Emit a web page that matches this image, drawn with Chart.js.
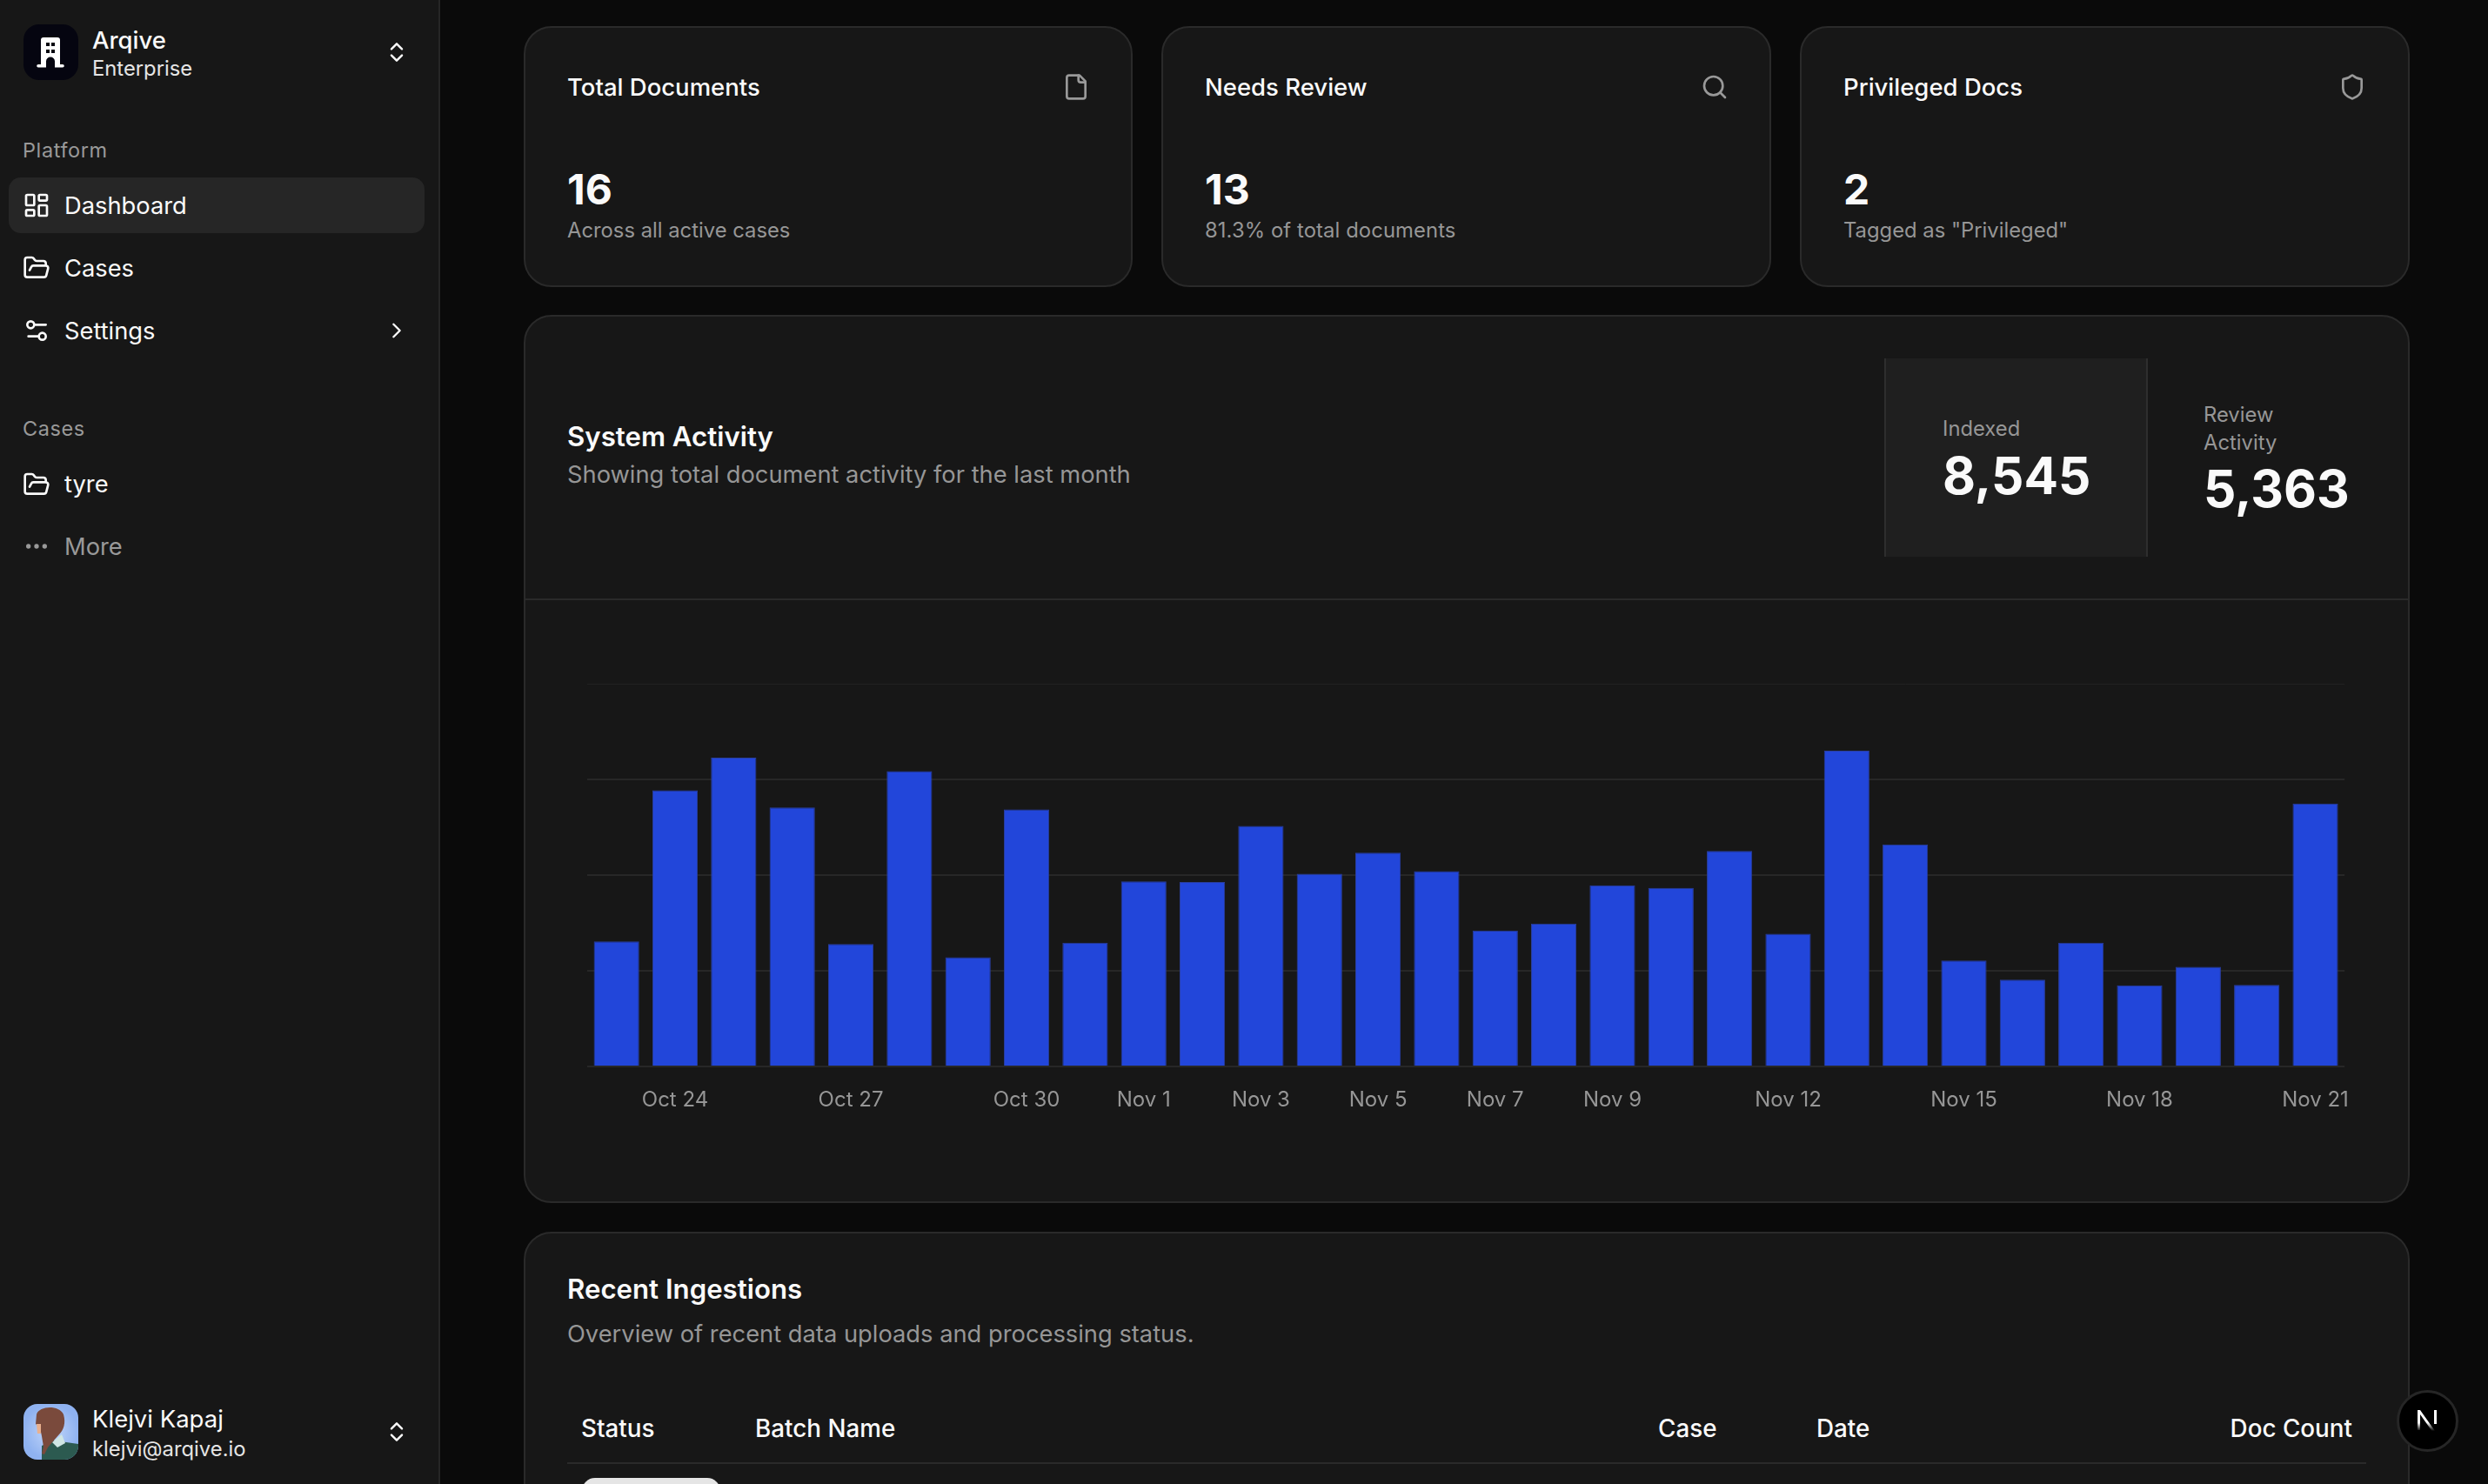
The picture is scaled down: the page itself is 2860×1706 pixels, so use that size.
<!DOCTYPE html>
<html lang="en">
<head>
<meta charset="utf-8">
<title>Arqive Dashboard</title>
<script src="https://cdn.jsdelivr.net/npm/chart.js@4"></script>
<style>
  * { box-sizing: border-box; margin: 0; padding: 0; }
  html, body { width: 2860px; height: 1706px; overflow: hidden; background: #0a0a0a; }
  body { position: relative; font-family: Inter, "Noto Sans", sans-serif; color: #fafafa; }

  .sidebar { position: absolute; left: 0; top: 0; width: 506px; height: 1706px; background: #171717; border-right: 2px solid #262626; }
  .card { position: absolute; background: #171717; border: 2px solid #2a2a2a; border-radius: 32px; }
  .t { position: absolute; white-space: nowrap; transform: translateY(-50%); line-height: 1.2; margin-top: 1px; }
  .muted { color: #999; }
  .ic { position: absolute; fill: none; stroke: currentColor; stroke-width: 2; stroke-linecap: round; stroke-linejoin: round; transform: translate(-50%, -50%); }

  .brand { font-size: 27.5px; font-weight: 400; }
  .small { font-size: 23.8px; }
  .section { font-size: 23.5px; letter-spacing: 0.6px; color: #999; }
  .nav { font-size: 27.3px; font-weight: 400; }
  .title { font-size: 27.5px; font-weight: 500; }
  .num { font-size: 48px; font-weight: 700; }
  .sub { font-size: 23.8px; color: #969696; }
  .head { font-size: 31.2px; font-weight: 600; }
  .desc { font-size: 27.3px; color: #969696; }
  .big { font-size: 58.5px; font-weight: 700; }
  .th { font-size: 27.8px; font-weight: 500; }

  .pill { position: absolute; left: 10px; top: 204px; width: 478px; height: 64px; background: #262626; border-radius: 14px; }
  .logo { position: absolute; left: 27px; top: 28px; width: 63px; height: 64px; border-radius: 18px; background: #050510; }
  .avatar { position: absolute; left: 27px; top: 1614px; width: 63px; height: 64px; border-radius: 16px; overflow: hidden; }
  .indexed { position: absolute; left: 2166px; top: 412px; width: 303px; height: 228px; background: #1f1f1f; border-left: 2px solid #2e2e2e; border-right: 2px solid #2e2e2e; }
  .rule { position: absolute; height: 2px; background: #2a2a2a; }
  .badge { position: absolute; left: 2790px; top: 1633px; width: 71px; height: 71px; margin: -35px 0 0 -35px; border-radius: 50%; background: #000; border: 3px solid #262626; }
  .status { position: absolute; left: 669px; top: 1699px; width: 159px; height: 30px; border-radius: 18px; background: #e5e5e5; }
  #chartBox { position: absolute; left: 656px; top: 775px; width: 2060px; height: 530px; }
</style>
</head>
<body>

<div class="sidebar"></div>
<div class="logo"></div>
<svg class="ic" style="left:58px;top:60px;stroke:none;fill:#fff" width="34" height="36" viewBox="0 0 34 36"><path fill-rule="evenodd" d="M9 1h16a3 3 0 0 1 3 3v28h3a1.800 1.800 0 0 1 0 3.600h-9v-7a5 5 0 0 0-10 0v7H3a1.800 1.800 0 0 1 0-3.600h3V4a3 3 0 0 1 3-3zM12 7v4h4V7zm6 0v4h4V7zM12 15v4h4v-4zm6 0v4h4v-4z"/></svg>
<div class="t brand" style="left:106px;top:45px;font-weight:500">Arqive</div>
<div class="t small" style="left:106px;top:78px;color:#e5e5e5">Enterprise</div>
<svg class="ic" style="left:456px;top:60px" width="29" height="29" viewBox="0 0 24 24"><path d="m7 15 5 5 5-5M7 9l5-5 5 5"/></svg>

<div class="t section" style="left:26px;top:172px">Platform</div>
<div class="pill"></div>
<svg class="ic" style="left:42px;top:236px" width="32" height="32" viewBox="0 0 24 24"><rect x="3" y="3" width="7" height="9" rx="1"/><rect x="14" y="3" width="7" height="5" rx="1"/><rect x="14" y="12" width="7" height="9" rx="1"/><rect x="3" y="16" width="7" height="5" rx="1"/></svg>
<div class="t nav" style="left:74px;top:236px">Dashboard</div>
<svg class="ic" style="left:42px;top:308px" width="32" height="32" viewBox="0 0 24 24"><path d="m6 14 1.500-2.900A2 2 0 0 1 9.240 10H20a2 2 0 0 1 1.940 2.500l-1.540 6a2 2 0 0 1-1.950 1.500H4a2 2 0 0 1-2-2V5a2 2 0 0 1 2-2h3.900a2 2 0 0 1 1.690.9l.81 1.200a2 2 0 0 0 1.670.9H18a2 2 0 0 1 2 2v2"/></svg>
<div class="t nav" style="left:74px;top:308px">Cases</div>
<svg class="ic" style="left:42px;top:380px" width="32" height="32" viewBox="0 0 24 24"><path d="M20 7h-9M14 17H5"/><circle cx="17" cy="17" r="3"/><circle cx="7" cy="7" r="3"/></svg>
<div class="t nav" style="left:74px;top:380px">Settings</div>
<svg class="ic" style="left:456px;top:380px" width="29" height="29" viewBox="0 0 24 24"><path d="m9 18 6-6-6-6"/></svg>

<div class="t section" style="left:26px;top:492px">Cases</div>
<svg class="ic" style="left:42px;top:557px" width="32" height="32" viewBox="0 0 24 24"><path d="m6 14 1.500-2.900A2 2 0 0 1 9.240 10H20a2 2 0 0 1 1.940 2.500l-1.540 6a2 2 0 0 1-1.950 1.500H4a2 2 0 0 1-2-2V5a2 2 0 0 1 2-2h3.900a2 2 0 0 1 1.690.9l.81 1.200a2 2 0 0 0 1.670.9H18a2 2 0 0 1 2 2v2"/></svg>
<div class="t nav" style="left:74px;top:556px">tyre</div>
<svg class="ic" style="left:42px;top:628px;color:#999" width="32" height="32" viewBox="0 0 24 24"><circle cx="12" cy="12" r="1"/><circle cx="19" cy="12" r="1"/><circle cx="5" cy="12" r="1"/></svg>
<div class="t nav muted" style="left:74px;top:628px">More</div>

<div class="avatar">
  <svg width="63" height="64" viewBox="0 0 63 64">
    <defs><radialGradient id="sky"><stop offset="0" stop-color="#c4d8fa"/><stop offset="1" stop-color="#8fb2f0"/></radialGradient></defs>
    <rect width="63" height="64" fill="url(#sky)"/>
    <path d="M21 64V48l14-6 28 4v18z" fill="#2c5a50"/>
    <path d="M33 44l11-9 4 10-9 5z" fill="#cfe6e4"/>
    <path d="M15 12c3-10 26-11 31 0 3 10 0 18-5 23l-8 9-5 6-4 8-3-1 2-8-2-12-2-10-5-4z" fill="#7a4a3c"/>
    <path d="M15 23h5v11h-4z" fill="#e9b08e"/>
  </svg>
</div>
<div class="t brand" style="left:106px;top:1630px">Klejvi Kapaj</div>
<div class="t small" style="left:106px;top:1665px;color:#e5e5e5">klejvi@arqive.io</div>
<svg class="ic" style="left:456px;top:1646px" width="29" height="29" viewBox="0 0 24 24"><path d="m7 15 5 5 5-5M7 9l5-5 5 5"/></svg>

<div class="card" style="left:602px;top:30px;width:700px;height:300px"></div>
<div class="t title" style="left:652px;top:99px">Total Documents</div>
<svg class="ic" style="left:1237px;top:100px;color:#999" width="32" height="32" viewBox="0 0 24 24"><path d="M15 2H6a2 2 0 0 0-2 2v16a2 2 0 0 0 2 2h12a2 2 0 0 0 2-2V7z"/><path d="M14 2v4a2 2 0 0 0 2 2h4"/></svg>
<div class="t num" style="left:652px;top:217px">16</div>
<div class="t sub" style="left:652px;top:264px">Across all active cases</div>

<div class="card" style="left:1335px;top:30px;width:701px;height:300px"></div>
<div class="t title" style="left:1385px;top:99px">Needs Review</div>
<svg class="ic" style="left:1971px;top:100px;color:#999" width="32" height="32" viewBox="0 0 24 24"><circle cx="11" cy="11" r="8"/><path d="m21 21-4.300-4.300"/></svg>
<div class="t num" style="left:1385px;top:217px">13</div>
<div class="t sub" style="left:1385px;top:264px;letter-spacing:0.1px">81.3% of total documents</div>

<div class="card" style="left:2069px;top:30px;width:701px;height:300px"></div>
<div class="t title" style="left:2119px;top:99px">Privileged Docs</div>
<svg class="ic" style="left:2704px;top:100px;color:#999" width="32" height="32" viewBox="0 0 24 24"><path d="M20 13c0 5-3.500 7.500-7.660 8.950a1 1 0 0 1-.67-.01C7.500 20.500 4 18 4 13V6a1 1 0 0 1 1-1c2 0 4.500-1.200 6.240-2.720a1.170 1.170 0 0 1 1.520 0C14.510 3.810 17 5 19 5a1 1 0 0 1 1 1z"/></svg>
<div class="t num" style="left:2119px;top:217px">2</div>
<div class="t sub" style="left:2119px;top:264px">Tagged as "Privileged"</div>

<div class="card" style="left:602px;top:362px;width:2168px;height:1021px"></div>
<div class="t head" style="left:652px;top:502px">System Activity</div>
<div class="t desc" style="left:652px;top:545px">Showing total document activity for the last month</div>
<div class="indexed"></div>
<div class="t sub" style="left:2233px;top:492px">Indexed</div>
<div class="t big" style="left:2233px;top:546px">8,545</div>
<div class="t sub" style="left:2533px;top:476px">Review</div>
<div class="t sub" style="left:2533px;top:508px">Activity</div>
<div class="t big" style="left:2533px;top:561px">5,363</div>
<div class="rule" style="left:603px;top:688px;width:2166px"></div>
<div id="chartBox"><canvas id="activityChart"></canvas></div>

<div class="card" style="left:602px;top:1416px;width:2168px;height:400px"></div>
<div class="t head" style="left:652px;top:1482px">Recent Ingestions</div>
<div class="t desc" style="left:652px;top:1533px">Overview of recent data uploads and processing status.</div>
<div class="t th" style="left:668px;top:1642px">Status</div>
<div class="t th" style="left:868px;top:1642px">Batch Name</div>
<div class="t th" style="left:1906px;top:1642px">Case</div>
<div class="t th" style="left:2088px;top:1642px">Date</div>
<div class="t th" style="right:156px;top:1642px">Doc Count</div>
<div class="rule" style="left:652px;top:1681px;width:2068px"></div>
<div class="status"></div>

<div class="badge"></div>
<svg class="ic" style="left:2790px;top:1633px;stroke:none" width="36" height="36" viewBox="0 0 36 36"><defs><linearGradient id="nGrad" x1="0" y1="0" x2="0" y2="1"><stop offset="0.6" stop-color="#fff"/><stop offset="1" stop-color="#fff" stop-opacity="0"/></linearGradient></defs><path d="M7 6h3l17 24h-3.500L10 11v18H7z" fill="url(#nGrad)"/><rect x="26" y="6" width="3" height="16" fill="#fff"/></svg>

<script>
const CATEGORIES = ['Oct 23', 'Oct 24', 'Oct 25', 'Oct 26', 'Oct 27', 'Oct 28', 'Oct 29', 'Oct 30', 'Oct 31', 'Nov 1',
  'Nov 2', 'Nov 3', 'Nov 4', 'Nov 5', 'Nov 6', 'Nov 7', 'Nov 8', 'Nov 9', 'Nov 10', 'Nov 11',
  'Nov 12', 'Nov 13', 'Nov 14', 'Nov 15', 'Nov 16', 'Nov 17', 'Nov 18', 'Nov 19', 'Nov 20', 'Nov 21'];
const INDEXED = [196, 433, 484, 406, 192, 463, 171, 403, 194, 290,
  289, 377, 302, 335, 306, 213, 224, 284, 280, 338,
  208, 495, 348, 166, 136, 194, 127, 156, 128, 412];
const TICK_LABELS = ['Oct 24', 'Oct 27', 'Oct 30', 'Nov 1', 'Nov 3', 'Nov 5', 'Nov 7', 'Nov 9', 'Nov 12', 'Nov 15', 'Nov 18', 'Nov 21'];
const Y_MAX = 600;
const Y_STEP = 150;

new Chart(document.getElementById('activityChart'), {
  type: 'bar',
  data: {
    labels: CATEGORIES,
    datasets: [{
      label: 'Indexed',
      data: INDEXED,
      backgroundColor: '#2246da',
      borderColor: '#2a3f9f',
      borderWidth: 1,
      barPercentage: 0.775,
      categoryPercentage: 1
    }]
  },
  options: {
    responsive: true,
    maintainAspectRatio: false,
    animation: false,
    layout: { padding: { left: 19, right: 9, top: 11, bottom: 0 } },
    plugins: { legend: { display: false }, tooltip: { enabled: false } },
    scales: {
      x: {
        grid: { display: false },
        border: { display: false },
        afterFit: scale => { scale.height = 79; },
        ticks: {
          autoSkip: false,
          maxRotation: 0,
          color: '#969696',
          padding: 16,
          font: { family: 'Inter', size: 24 },
          callback(value) {
            const label = this.getLabelForValue(value);
            return TICK_LABELS.includes(label) ? label : '';
          }
        }
      },
      y: {
        min: 0,
        max: Y_MAX,
        ticks: { display: false, stepSize: Y_STEP },
        border: { display: false },
        grid: {
          drawTicks: false,
          // top line is fainter in the original
          color: ctx => ctx.tick.value === Y_MAX ? '#222222' : '#272727',
          lineWidth: ctx => ctx.tick.value === Y_MAX ? 1 : 2
        }
      }
    }
  }
});
</script>
</body>
</html>
